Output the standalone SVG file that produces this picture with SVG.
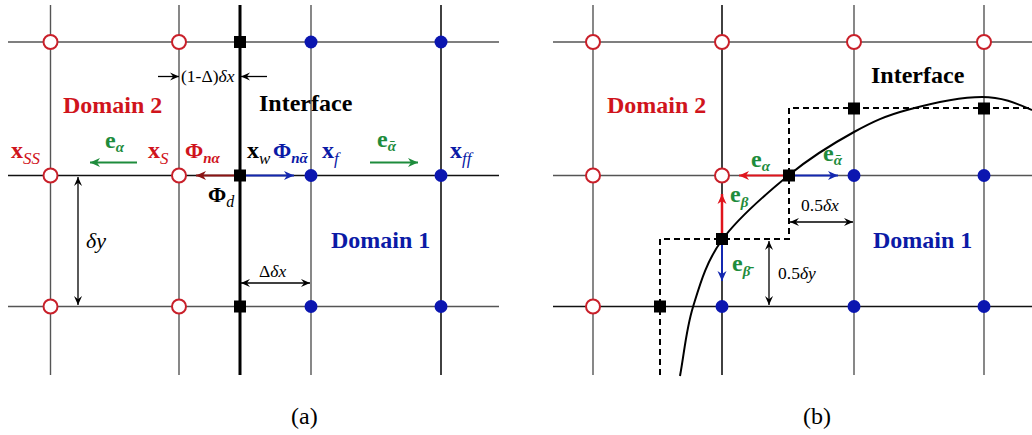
<svg xmlns="http://www.w3.org/2000/svg" width="1032" height="435" viewBox="0 0 1032 435">
<style>
.g{stroke:#555;stroke-width:1.4;fill:none}
.k{stroke:#111;stroke-width:1.6;fill:none}
.oc{fill:#fff;stroke:#c9202a;stroke-width:2}
.bd{fill:#0b16b0}
.t{font-family:"Liberation Serif","DejaVu Serif",serif}
.b{font-weight:bold}
.i{font-style:italic}
.red{fill:#d0141c}
.blu{fill:#0b1aa6}
.grn{fill:#1e8c3c}
.dim{stroke:#000;stroke-width:1.3;fill:none}
</style>
<defs>
<marker id="ak" viewBox="0 0 10 10" refX="10" refY="5" markerUnits="userSpaceOnUse" markerWidth="12" markerHeight="9" orient="auto-start-reverse"><path d="M0,0.5 L10,5 L0,9.5 L3.5,5 z" fill="#000"/></marker>
<marker id="ar" viewBox="0 0 10 10" refX="10" refY="5" markerUnits="userSpaceOnUse" markerWidth="13" markerHeight="10" orient="auto"><path d="M0,0.5 L10,5 L0,9.5 L3,5 z" fill="#e0141c"/></marker>
<marker id="ad" viewBox="0 0 10 10" refX="10" refY="5" markerUnits="userSpaceOnUse" markerWidth="13" markerHeight="10" orient="auto"><path d="M0,0.5 L10,5 L0,9.5 L3,5 z" fill="#8b1414"/></marker>
<marker id="ab" viewBox="0 0 10 10" refX="10" refY="5" markerUnits="userSpaceOnUse" markerWidth="13" markerHeight="10" orient="auto"><path d="M0,0.5 L10,5 L0,9.5 L3,5 z" fill="#1428b0"/></marker>
<marker id="ag" viewBox="0 0 10 10" refX="10" refY="5" markerUnits="userSpaceOnUse" markerWidth="13" markerHeight="10" orient="auto"><path d="M0,0.5 L10,5 L0,9.5 L3,5 z" fill="#1e8c3c"/></marker>
</defs>

<!-- grid lines (a) -->
<g id="grid-a">
<line class="g" x1="8" y1="42" x2="499" y2="42"/>
<line class="k" x1="8" y1="175.5" x2="499" y2="175.5"/>
<line class="g" x1="8" y1="306.5" x2="499" y2="306.5"/>
<line class="g" x1="50.5" y1="5" x2="50.5" y2="375"/>
<line class="g" x1="179" y1="5" x2="179" y2="375"/>
<line class="g" x1="311" y1="5" x2="311" y2="375"/>
<line class="k" x1="441" y1="5" x2="441" y2="375"/>
<line x1="240" y1="5" x2="240" y2="375" stroke="#000" stroke-width="3"/>
</g>

<!-- grid lines (b) -->
<g id="grid-b">
<line class="g" x1="553" y1="42" x2="1032" y2="42"/>
<line class="g" x1="553" y1="175.5" x2="1032" y2="175.5"/>
<line class="k" x1="553" y1="306.5" x2="1032" y2="306.5"/>
<line class="g" x1="593" y1="5" x2="593" y2="375"/>
<line class="k" x1="722" y1="5" x2="722" y2="375"/>
<line class="g" x1="854" y1="5" x2="854" y2="375"/>
<line class="g" x1="984" y1="5" x2="984" y2="375"/>
<path d="M660,375 V239 H789 V108 H1032" fill="none" stroke="#000" stroke-width="2" stroke-dasharray="6,4"/>
<path d="M680,376 C684.3,353 686,329.7 693,307 C700,284.3 706,262 722,240 C738,218 767,193 789,175 C811,157 834.3,142.8 854,132 C873.7,121.2 885.7,115.8 907,110 C928.3,104.2 961.2,97 982,97 C1002.8,97 1017.3,103.7 1032,110" fill="none" stroke="#000" stroke-width="2"/>
</g>

<!-- connectors -->
<g id="connectors">
<line x1="137" y1="162.5" x2="90" y2="162.5" stroke="#1e8c3c" stroke-width="2" marker-end="url(#ag)"/>
<line x1="370" y1="162.5" x2="418" y2="162.5" stroke="#1e8c3c" stroke-width="2" marker-end="url(#ag)"/>
<line x1="240" y1="175.5" x2="196" y2="175.5" stroke="#8b1414" stroke-width="2" marker-end="url(#ad)"/>
<line x1="240" y1="175.5" x2="294" y2="175.5" stroke="#1428b0" stroke-width="2" marker-end="url(#ab)"/>
<line class="dim" x1="158" y1="76.5" x2="179" y2="76.5" marker-end="url(#ak)"/>
<line class="dim" x1="267" y1="76.5" x2="241" y2="76.5" marker-end="url(#ak)"/>
<line class="dim" x1="78" y1="177" x2="78" y2="305" marker-start="url(#ak)" marker-end="url(#ak)"/>
<line class="dim" x1="241" y1="283" x2="310" y2="283" marker-start="url(#ak)" marker-end="url(#ak)"/>
<line x1="789" y1="175.5" x2="739" y2="175.5" stroke="#e0141c" stroke-width="2" marker-end="url(#ar)"/>
<line x1="789" y1="175.5" x2="838" y2="175.5" stroke="#1428b0" stroke-width="2" marker-end="url(#ab)"/>
<line x1="722" y1="239" x2="722" y2="194" stroke="#e0141c" stroke-width="2.5" marker-end="url(#ar)"/>
<line x1="722" y1="239" x2="722" y2="281" stroke="#1428b0" stroke-width="2" marker-end="url(#ab)"/>
<line class="dim" x1="790" y1="222" x2="853" y2="222" marker-start="url(#ak)" marker-end="url(#ak)"/>
<line class="dim" x1="769" y1="241" x2="769" y2="305" marker-start="url(#ak)" marker-end="url(#ak)"/>
</g>

<!-- nodes (a) -->
<g id="nodes-a">
<circle class="oc" cx="50.5" cy="42" r="7"/>
<circle class="oc" cx="179" cy="42" r="7"/>
<circle class="oc" cx="50.5" cy="175.5" r="7"/>
<circle class="oc" cx="179" cy="175.5" r="7"/>
<circle class="oc" cx="50.5" cy="306.5" r="7"/>
<circle class="oc" cx="179" cy="306.5" r="7"/>
<rect x="234" y="36" width="12" height="12"/>
<rect x="234" y="169.5" width="12" height="12"/>
<rect x="234" y="300.5" width="12" height="12"/>
<circle class="bd" cx="311" cy="42" r="6.5"/>
<circle class="bd" cx="441" cy="42" r="6.5"/>
<circle class="bd" cx="311" cy="175.5" r="6.5"/>
<circle class="bd" cx="441" cy="175.5" r="6.5"/>
<circle class="bd" cx="311" cy="306.5" r="6.5"/>
<circle class="bd" cx="441" cy="306.5" r="6.5"/>
</g>

<!-- nodes (b) -->
<g id="nodes-b">
<circle class="oc" cx="593" cy="42" r="7"/>
<circle class="oc" cx="722" cy="42" r="7"/>
<circle class="oc" cx="854" cy="42" r="7"/>
<circle class="oc" cx="984" cy="42" r="7"/>
<circle class="oc" cx="593" cy="175.5" r="7"/>
<circle class="oc" cx="722" cy="175.5" r="7"/>
<circle class="oc" cx="593" cy="306.5" r="7"/>
<circle class="bd" cx="854" cy="175.5" r="6.5"/>
<circle class="bd" cx="984" cy="175.5" r="6.5"/>
<circle class="bd" cx="722" cy="306.5" r="6.5"/>
<circle class="bd" cx="854" cy="306.5" r="6.5"/>
<circle class="bd" cx="984" cy="306.5" r="6.5"/>
<rect x="783" y="169.5" width="12" height="12"/>
<rect x="848" y="102.5" width="12" height="12"/>
<rect x="978" y="102.5" width="12" height="12"/>
<rect x="716" y="233" width="12" height="12"/>
<rect x="654" y="300.5" width="12" height="12"/>
</g>

<!-- labels (a) -->
<g id="labels-a" class="t">
<text x="63" y="113" font-size="24" class="b red">Domain 2</text>
<text x="259" y="111" font-size="24" class="b">Interface</text>
<text x="331" y="248" font-size="24" class="b blu">Domain 1</text>
<text x="11" y="158" font-size="24" class="b red">x<tspan class="i" font-weight="normal" font-size="17" dy="6">SS</tspan></text>
<text x="148" y="158" font-size="24" class="b red">x<tspan class="i" font-weight="normal" font-size="17" dy="6">S</tspan></text>
<text x="185" y="158" font-size="22" class="b red">Φ<tspan class="i" font-size="15" dy="5">nα</tspan></text>
<text x="247" y="158" font-size="24" class="b">x<tspan class="i" font-weight="normal" font-size="17" dy="6">w</tspan></text>
<text x="273" y="158" font-size="22" class="b blu">Φ<tspan class="i" font-size="15" dy="5">nᾱ</tspan></text>
<text x="322" y="158" font-size="24" class="b blu">x<tspan class="i" font-weight="normal" font-size="17" dy="6">f</tspan></text>
<text x="450" y="158" font-size="24" class="b blu">x<tspan class="i" font-weight="normal" font-size="17" dy="6">ff</tspan></text>
<text x="105" y="148" font-size="24" class="b grn">e<tspan class="i" font-size="15" dy="4">α</tspan></text>
<text x="377" y="147" font-size="24" class="b grn">e<tspan class="i" font-size="15" dy="4">ᾱ</tspan></text>
<text x="208" y="202" font-size="22" class="b">Φ<tspan class="i" font-weight="normal" font-size="16" dy="5">d</tspan></text>
<text x="181" y="82" font-size="17.5">(1-Δ)<tspan class="i">δx</tspan></text>
<text x="86" y="248" font-size="22" class="i">δy</text>
<text x="259" y="277" font-size="17.5">Δ<tspan class="i">δx</tspan></text>
<text x="291" y="424" font-size="24">(a)</text>
</g>

<!-- labels (b) -->
<g id="labels-b" class="t">
<text x="607" y="113" font-size="24" class="b red">Domain 2</text>
<text x="871" y="83" font-size="24" class="b">Interface</text>
<text x="873" y="248" font-size="24" class="b blu">Domain 1</text>
<text x="751" y="167" font-size="24" class="b grn">e<tspan class="i" font-size="15" dy="4">α</tspan></text>
<text x="823" y="161" font-size="24" class="b grn">e<tspan class="i" font-size="15" dy="4">ᾱ</tspan></text>
<text x="730" y="202" font-size="24" class="b grn">e<tspan class="i" font-size="15" dy="5">β</tspan></text>
<text x="732" y="271" font-size="24" class="b grn">e<tspan class="i" font-size="15" dy="5">β̄</tspan></text>
<text x="801" y="211" font-size="17.5">0.5<tspan class="i">δx</tspan></text>
<text x="778" y="279" font-size="17.5">0.5<tspan class="i">δy</tspan></text>
<text x="803" y="424" font-size="24">(b)</text>
</g>
</svg>
